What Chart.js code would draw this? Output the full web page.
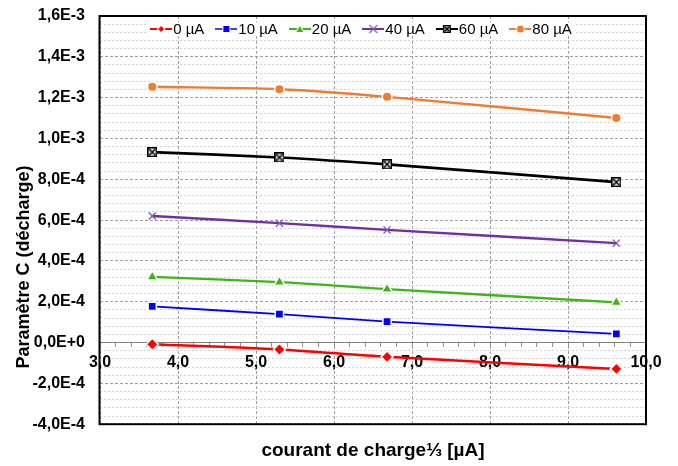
<!DOCTYPE html>
<html>
<head>
<meta charset="utf-8">
<script src="https://cdn.jsdelivr.net/npm/chart.js@4.4.1/dist/chart.umd.min.js"></script>
<style>
  html, body { margin: 0; padding: 0; background: #fff; }
</style>
</head>
<body>
<canvas id="chart" width="678" height="466"></canvas>
<script>
// courant de charge^(1/3)
const xValues = [3.67, 5.30, 6.68, 9.62];
const seriesNames = ['0 µA', '10 µA', '20 µA', '40 µA', '60 µA', '80 µA'];
const c0  = [-0.8e-5, -3.4e-5, -7.0e-5, -1.29e-4];
const c10 = [1.77e-4, 1.39e-4, 1.03e-4, 0.43e-4];
const c20 = [3.22e-4, 2.96e-4, 2.62e-4, 1.97e-4];
const c40 = [6.20e-4, 5.85e-4, 5.52e-4, 4.87e-4];
const c60 = [9.33e-4, 9.07e-4, 8.73e-4, 7.86e-4];
const c80 = [1.253e-3, 1.241e-3, 1.204e-3, 1.10e-3];
const yTicks = { min: -4e-4, max: 1.6e-3, step: 2e-4, minorStep: 4e-5 };
const xTicks = { min: 3, max: 10, step: 0.2 };

const FONT = "'Liberation Sans', Arial, sans-serif";
Chart.defaults.font.family = FONT;

const isWhole = (v, step) => Math.abs(v / step - Math.round(v / step)) < 1e-6;
const fmtE = v => v.toExponential(1).replace('.', ',').replace('e', 'E');

// black square with X marker
function boxX(size) {
    const c = document.createElement('canvas');
    c.width = c.height = size;
    const g = c.getContext('2d');
    g.fillStyle = '#000';
    g.fillRect(0, 0, size, size);
    g.fillStyle = '#fff';
    g.fillRect(1.5, 1.5, size - 3, size - 3);
    g.strokeStyle = '#000';
    g.lineWidth = 1.6;
    g.beginPath();
    g.moveTo(2, 2); g.lineTo(size - 2, size - 2);
    g.moveTo(size - 2, 2); g.lineTo(2, size - 2);
    g.stroke();
    return c;
}

function legendIcon(color, width, marker) {
    const c = document.createElement('canvas');
    c.width = 22; c.height = 12;
    const g = c.getContext('2d');
    g.strokeStyle = color;
    g.lineWidth = width;
    g.beginPath(); g.moveTo(0, 6); g.lineTo(22, 6); g.stroke();
    g.fillStyle = color;
    marker(g, 11, 6, color);
    return c;
}

function withWhite(g, path) {
    g.beginPath(); path();
    g.strokeStyle = '#fff'; g.lineWidth = 2; g.stroke();
    g.fill();
}

const legendIcons = [
    legendIcon('#ff0000', 2, (g, x, y) => withWhite(g, () => { g.moveTo(x, y - 3); g.lineTo(x + 3, y); g.lineTo(x, y + 3); g.lineTo(x - 3, y); g.closePath(); })),
    legendIcon('#0000ff', 1.5, (g, x, y) => withWhite(g, () => g.rect(x - 3, y - 3, 6, 6))),
    legendIcon('#3db515', 2, (g, x, y) => withWhite(g, () => { g.moveTo(x, y - 3); g.lineTo(x + 3.5, y + 3); g.lineTo(x - 3.5, y + 3); g.closePath(); })),
    legendIcon('#7030a0', 2, (g, x, y) => { g.strokeStyle = '#8656b8'; g.lineWidth = 1.2; g.beginPath(); g.moveTo(x - 4, y - 4); g.lineTo(x + 4, y + 4); g.moveTo(x + 4, y - 4); g.lineTo(x - 4, y + 4); g.stroke(); }),
    legendIcon('#000000', 2, (g, x, y) => g.drawImage(boxX(8), x - 4, y - 4)),
    legendIcon('#ed7d31', 2, (g, x, y) => withWhite(g, () => g.arc(x, y, 3.5, 0, Math.PI * 2)))
];

function series(i, values, color, width, style, radius) {
    return {
        label: seriesNames[i],
        data: xValues.map((x, k) => ({ x: x, y: values[k] })),
        borderColor: color,
        backgroundColor: color,
        borderWidth: width,
        pointStyle: style,
        pointRadius: radius,
        pointBackgroundColor: color,
        pointBorderColor: '#fff',
        pointBorderWidth: 1.5,
        tension: 0.3
    };
}

// legend sits inside the plot, like the original
const insideLegend = {
    id: 'insideLegend',
    beforeDatasetsDraw(chart) {
        const { ctx, chartArea: a } = chart;
        ctx.save();
        ctx.font = '15px ' + FONT;
        const gap = 11;
        const itemW = seriesNames.map(n => 23 + ctx.measureText(n).width);
        const total = itemW.reduce((s, w) => s + w, 0) + gap * (seriesNames.length - 1);
        let x = (a.left + a.right) / 2 - 12 - total / 2;
        const y = a.top + 13;
        ctx.fillStyle = '#fff';
        ctx.fillRect(x - 3, y - 7, total + 6, 14);
        ctx.fillStyle = '#000';
        ctx.textBaseline = 'middle';
        seriesNames.forEach((n, i) => {
            ctx.drawImage(legendIcons[i], x, y - 6);
            ctx.fillText(n, x + 23, y + 1);
            x += itemW[i] + gap;
        });
        ctx.restore();
    }
};

const plotBorder = {
    id: 'plotBorder',
    afterDatasetsDraw(chart) {
        const { ctx, chartArea: a } = chart;
        ctx.save();
        ctx.strokeStyle = '#000';
        ctx.lineWidth = 2;
        ctx.strokeRect(a.left - 0.5, a.top, a.right - a.left + 0.5, a.bottom - a.top);
        ctx.restore();
    }
};

const yTitle = {
    id: 'yTitle',
    afterDraw(chart) {
        const ctx = chart.ctx;
        ctx.save();
        ctx.translate(24, 267);
        ctx.rotate(-Math.PI / 2);
        ctx.font = 'bold 18px ' + FONT;
        ctx.fillStyle = '#000';
        ctx.textAlign = 'center';
        ctx.textBaseline = 'middle';
        ctx.fillText('Paramètre C (décharge)', 0, 0);
        ctx.restore();
    }
};

const datasets = [
    series(0, c0, '#ff0000', 2.5, 'rectRot', 6),
    series(1, c10, '#0000ff', 1.8, 'rect', 5.8),
    series(2, c20, '#3db515', 2.4, 'triangle', 6.2),
    series(3, c40, '#7030a0', 2.4, 'crossRot', 5),
    series(4, c60, '#000000', 2.6, boxX(10), 5),
    series(5, c80, '#ed7d31', 2.4, 'circle', 4.8)
];
datasets[3].pointBorderColor = '#8656b8';
datasets[3].pointBorderWidth = 1.3;

new Chart(document.getElementById('chart'), {
    type: 'line',
    data: { datasets: datasets },
    plugins: [insideLegend, plotBorder, yTitle],
    options: {
        responsive: false,
        animation: false,
        events: [],
        layout: { padding: { top: 16, right: 32, left: 0, bottom: 0 } },
        plugins: {
            tooltip: { enabled: false },
            legend: { display: false },
            title: {
                display: true,
                text: 'courant de charge⅓ [µA]',
                position: 'bottom',
                fullSize: false,
                color: '#000',
                font: { size: 19, weight: 'bold' },
                padding: { top: 15, bottom: 4 }
            }
        },
        scales: {
            x: {
                type: 'linear',
                position: { y: 0 },
                min: xTicks.min,
                max: xTicks.max,
                afterFit: s => { s.height = 0; },
                ticks: {
                    stepSize: xTicks.step,
                    autoSkip: false,
                    maxRotation: 0,
                    maxTicksLimit: 100,
                    padding: 6,
                    color: '#000',
                    font: { size: 16, weight: 'bold' },
                    callback: v => isWhole(v, 1) ? v.toFixed(1).replace('.', ',') : ''
                },
                grid: {
                    color: c => isWhole(c.tick.value, 1) ? '#a0a0a0' : 'rgba(0,0,0,0)',
                    tickColor: '#909090',
                    tickLength: 4
                },
                border: { color: '#808080', width: 1, dash: [3, 2] }
            },
            y: {
                type: 'linear',
                position: 'left',
                min: yTicks.min,
                max: yTicks.max,
                afterFit: s => { s.width = 100; },
                ticks: {
                    stepSize: yTicks.step,
                    maxTicksLimit: 20,
                    padding: 0,
                    color: '#000',
                    font: { size: 16, weight: 'bold' },
                    callback: v => fmtE(v)
                },
                grid: { color: '#a0a0a0', drawTicks: true, tickLength: 15, tickColor: 'rgba(0,0,0,0)' },
                border: { display: false, dash: [3, 2] }
            },
            y2: {
                type: 'linear',
                position: 'left',
                min: yTicks.min,
                max: yTicks.max,
                afterFit: s => { s.width = 0; },
                ticks: { display: false, stepSize: yTicks.minorStep, maxTicksLimit: 100 },
                grid: {
                    color: c => isWhole(c.tick.value, yTicks.step) ? 'rgba(0,0,0,0)' : '#d4d4d4',
                    drawTicks: false
                },
                border: { display: false, dash: [2, 2] }
            }
        }
    }
});
</script>
</body>
</html>
